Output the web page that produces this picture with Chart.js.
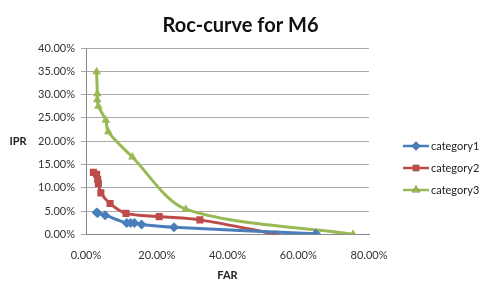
<!DOCTYPE html>
<html>
<head>
<meta charset="utf-8">
<script src="https://cdn.jsdelivr.net/npm/chart.js@4.4.1/dist/chart.umd.min.js"></script>
<style>
  html, body { margin: 0; padding: 0; background: #fff; }
  #wrap { width: 481px; height: 284px; }
</style>
</head>
<body>
<div id="wrap"><canvas id="roc" width="481" height="284"></canvas></div>
<script>
// FAR / IPR values in percent
var cat1Far = [3.0, 3.3, 5.4, 11.5, 12.6, 13.7, 15.7, 24.9, 65.0];
var cat1Ipr = [4.7, 4.6, 4.1, 2.4, 2.4, 2.4, 2.1, 1.5, 0.1];

var cat2Far = [2.1, 3.0, 3.3, 3.5, 4.2, 6.8, 11.3, 20.7, 32.2, 53.7];
var cat2Ipr = [13.3, 12.9, 11.8, 10.9, 8.9, 6.6, 4.5, 3.8, 3.1, 0.0];

var cat3Far = [3.0, 3.2, 3.2, 3.5, 5.6, 6.3, 13.1, 28.2, 75.5];
var cat3Ipr = [34.9, 30.2, 28.9, 27.5, 24.5, 22.0, 16.6, 5.4, 0.0];

var seriesNames = ["category1", "category2", "category3"];
var seriesColors = ["#4a7ebb", "#be4b48", "#98b954"];
var seriesMarkers = ["rectRot", "rect", "triangle"];

var xTicks = [0, 20, 40, 60, 80];
var yTicks = [0, 5, 10, 15, 20, 25, 30, 35, 40];

var font = "Lato, 'Open Sans', sans-serif";

function pts(xs, ys) {
  var out = [];
  for (var i = 0; i < xs.length; i++) out.push({ x: xs[i], y: ys[i] });
  return out;
}

function makeSet(i, data) {
  return {
    label: seriesNames[i],
    data: data,
    showLine: true,
    borderColor: seriesColors[i],
    backgroundColor: seriesColors[i],
    borderWidth: 3,
    tension: 0.3,
    pointStyle: seriesMarkers[i],
    pointRadius: 5,
    pointBorderWidth: 0,
  };
}

// y axis title drawn flat, plus an Excel style legend on the right
var extras = {
  id: "extras",
  afterDraw: function (chart) {
    var ctx = chart.ctx;
    ctx.save();
    ctx.fillStyle = "#222";
    ctx.font = "bold 11px " + font;
    ctx.textAlign = "center";
    ctx.textBaseline = "middle";
    ctx.fillText("IPR", 18, 141);

    ctx.textAlign = "left";
    ctx.font = "11px " + font;
    var rows = [146, 168, 190];
    chart.data.datasets.forEach(function (ds, i) {
      var y = rows[i];
      ctx.strokeStyle = ds.borderColor;
      ctx.lineWidth = 2.5;
      ctx.beginPath();
      ctx.moveTo(403, y);
      ctx.lineTo(429, y);
      ctx.stroke();
      Chart.helpers.drawPoint(ctx, { pointStyle: ds.pointStyle, radius: 4.5, borderWidth: 0 }, 416, y);
      ctx.fillStyle = ds.backgroundColor;
      ctx.fill();
      ctx.fillStyle = "#222";
      ctx.fillText(ds.label, 431, y);
    });
    ctx.restore();
  },
};

new Chart(document.getElementById("roc"), {
  type: "scatter",
  data: {
    datasets: [
      makeSet(0, pts(cat1Far, cat1Ipr)),
      makeSet(1, pts(cat2Far, cat2Ipr)),
      makeSet(2, pts(cat3Far, cat3Ipr)),
    ],
  },
  options: {
    responsive: false,
    animation: false,
    layout: { padding: 0 },
    plugins: {
      legend: { display: false },
      tooltip: { enabled: false },
      title: {
        display: true,
        text: "Roc-curve for M6",
        color: "#111",
        font: { family: font, size: 20, weight: "bold" },
        padding: { top: 14, bottom: 10 },
      },
    },
    scales: {
      x: {
        type: "linear",
        min: 0,
        max: 80,
        afterBuildTicks: function (s) { s.ticks = xTicks.map(function (v) { return { value: v }; }); },
        afterFit: function (s) { s.height = 49.7; },
        ticks: {
          color: "#333",
          font: { family: font, size: 11 },
          padding: 10,
          callback: function (v) { return v.toFixed(2) + "%"; },
        },
        grid: { display: false, drawOnChartArea: false, tickLength: 5, color: "#888" },
        border: { color: "#888" },
        title: {
          display: true,
          text: "FAR",
          color: "#222",
          font: { family: font, size: 11, weight: "bold" },
          padding: { top: 10, bottom: 2 },
        },
      },
      y: {
        type: "linear",
        min: 0,
        max: 40,
        afterBuildTicks: function (s) { s.ticks = yTicks.map(function (v) { return { value: v }; }); },
        afterFit: function (s) { s.width = 86; },
        ticks: {
          color: "#333",
          font: { family: font, size: 11 },
          padding: 6,
          callback: function (v) { return v.toFixed(2) + "%"; },
        },
        grid: { color: "#aaa", tickLength: 5, drawTicks: true },
        border: { color: "#888" },
      },
      // empty right axis, only reserves room for the legend
      side: {
        position: "right",
        display: true,
        afterFit: function (s) { s.width = 112; },
        ticks: { display: false },
        grid: { display: false },
        border: { display: false },
      },
    },
  },
  plugins: [extras],
});
</script>
</body>
</html>
